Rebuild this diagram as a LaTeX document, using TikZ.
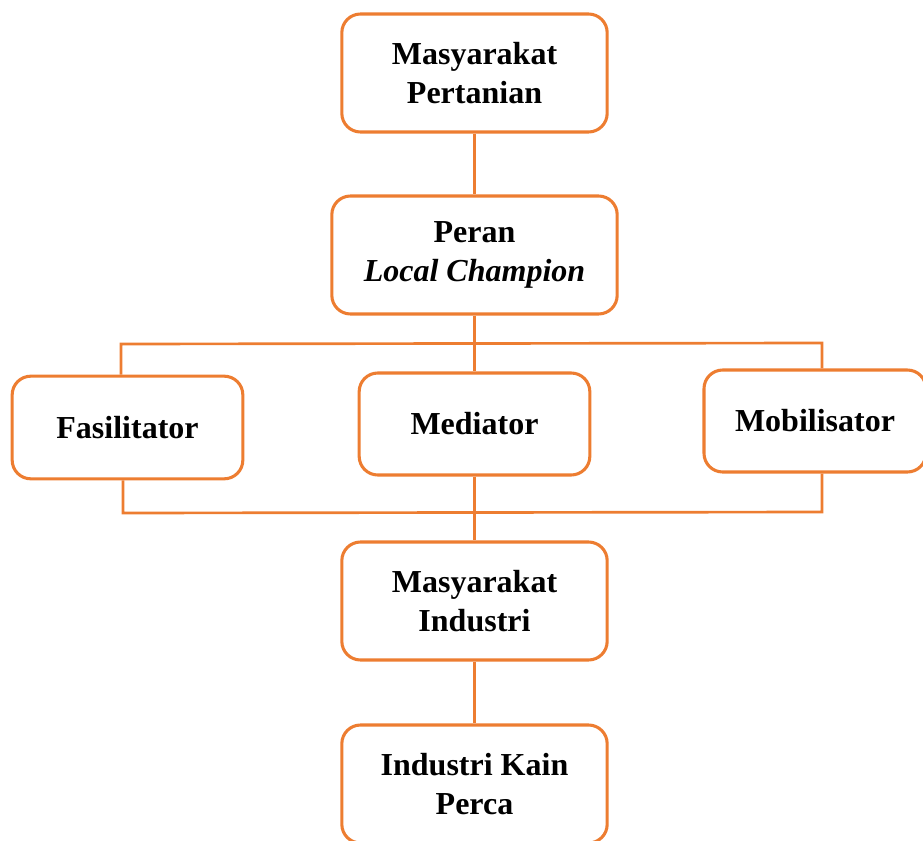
\documentclass[tikz,border=0pt]{standalone}
\usepackage{fontspec}
\setmainfont{Liberation Serif}
\usepackage{xcolor}
\usepackage{tikz}
\definecolor{orangeline}{RGB}{237,125,49}

\begin{document}
\begin{tikzpicture}[x=0.75pt, y=-0.75pt,
        box/.style={draw=orangeline, line width=2.3pt, rounded corners=14pt, fill=white, align=center, inner sep=0pt, font=\fontsize{24}{29}\selectfont\bfseries},
        wire/.style={draw=orangeline, line width=2pt}]
        \useasboundingbox (0,0) rectangle (923,841);

        \node (pertanian) [box, minimum width=199pt, minimum height=88.5pt] at (474.5,73) {Masyarakat\\Pertanian};
        \node (peran) [box, minimum width=214pt, minimum height=88.5pt] at (474.5,255) {Peran\\\textit{Local Champion}};
        \node (fasilitator) [box, minimum width=173pt, minimum height=77pt] at (127.5,427.5) {Fasilitator};
        \node (mediator) [box, minimum width=173pt, minimum height=76.5pt] at (474.5,424) {Mediator};
        \node (mobilisator) [box, minimum width=166.5pt, minimum height=76.5pt] at (815,421) {Mobilisator};
        \node (industri) [box, minimum width=199pt, minimum height=88.5pt] at (474.5,601) {Masyarakat\\Industri};
        \node (kain) [box, minimum width=199pt, minimum height=88.5pt] at (474.5,784) {Industri Kain\\Perca};

        \coordinate (busTL) at (121,344);
        \coordinate (busTR) at (822,343);
        \coordinate (busBL) at (123,513);
        \coordinate (busBR) at (822,512);

        \draw[wire] (fasilitator.north -| busTL) -- (busTL) -- (busTR) -- (busTR |- mobilisator.north);
        \draw[wire] (fasilitator.south -| busBL) -- (busBL) -- (busBR) -- (busBR |- mobilisator.south);

        \foreach \i/\j in {pertanian/peran, peran/mediator, mediator/industri, industri/kain} {
            \draw[wire] (\i) -- (\j);
        }
    \end{tikzpicture}
\end{document}
